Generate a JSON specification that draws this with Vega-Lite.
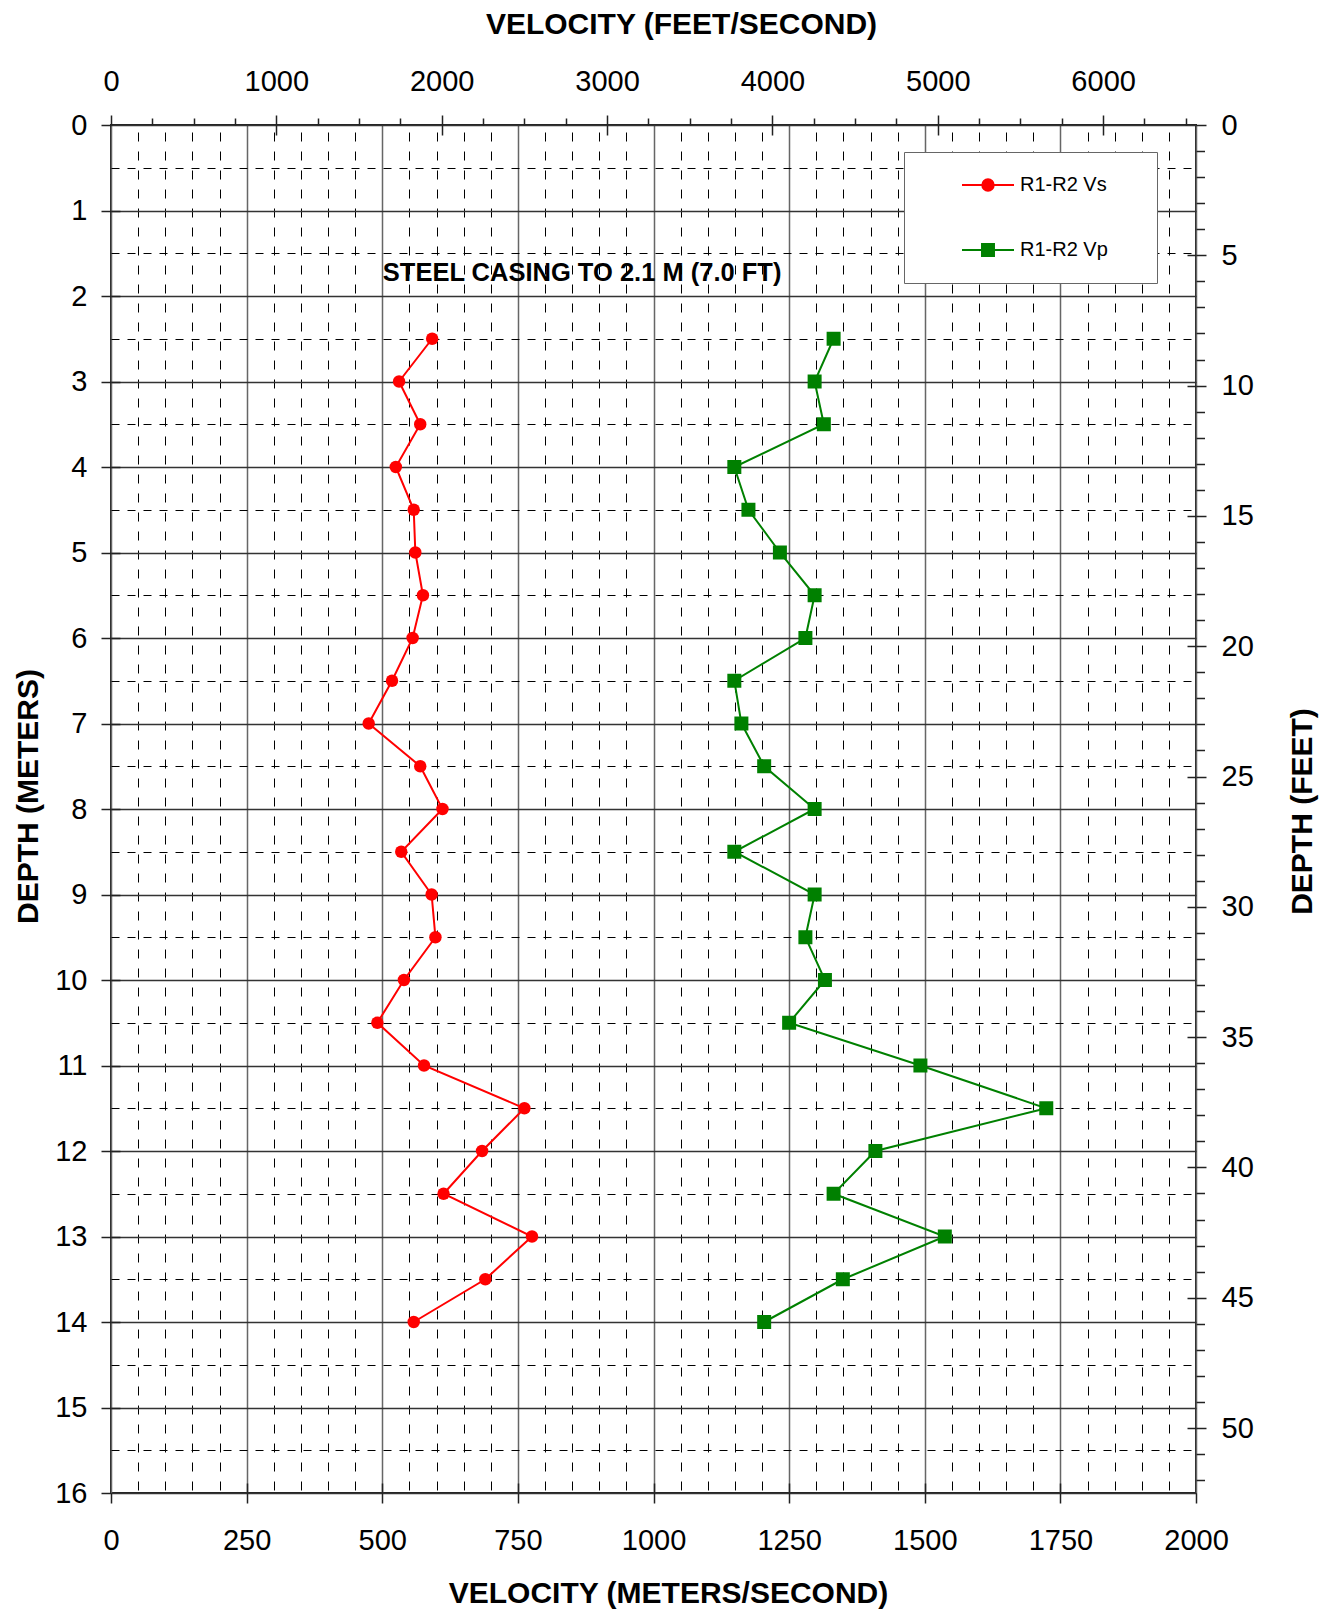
{
  "$schema": "https://vega.github.io/schema/vega-lite/v6.json",
  "width": 1085,
  "height": 1368,
  "autosize": {"type": "none"},
  "padding": {"left": 111, "top": 125, "right": 136, "bottom": 117},
  "background": "white",
  "config": {
    "font": "Liberation Sans",
    "view": {"stroke": "#222", "strokeWidth": 2},
    "axis": {
      "labelFont": "Liberation Sans",
      "titleFont": "Liberation Sans",
      "labelColor": "#000",
      "titleColor": "#000",
      "labelFontSize": 29,
      "titleFontSize": 30,
      "titleFontWeight": "bold",
      "tickColor": "#222",
      "tickWidth": 1.5,
      "domain": false,
      "labelOverlap": false,
      "labelFlush": false
    }
  },
  "layer": [
    {
      "data": {"values": [{}]},
      "mark": {"type": "rule", "strokeOpacity": 0},
      "encoding": {
        "x": {
          "datum": 0,
          "type": "quantitative",
          "scale": {"domain": [0, 2000], "nice": false, "zero": false},
          "axis": {
            "orient": "bottom",
            "values": [0,50,100,150,200,250,300,350,400,450,500,550,600,650,700,750,800,850,900,950,1000,1050,1100,1150,1200,1250,1300,1350,1400,1450,1500,1550,1600,1650,1700,1750,1800,1850,1900,1950,2000],
            "title": "VELOCITY (METERS/SECOND)",
            "grid": true,
            "gridColor": {"condition": {"test": "datum.value % 250 === 0", "value": "#666"}, "value": "#000"},
            "gridWidth": {"condition": {"test": "datum.value % 250 === 0", "value": 1.5}, "value": 1},
            "gridDash": {"condition": {"test": "datum.value % 250 === 0", "value": []}, "value": [9, 10]},
            "gridDashOffset": 16,
            "tickSize": 10,
            "tickOpacity": {"condition": {"test": "datum.value % 250 === 0", "value": 1}, "value": 0},
            "labelExpr": "datum.value % 250 === 0 ? '' + datum.value : ''",
            "labelPadding": 23,
            "titleX": 557,
            "titleY": 109,
            "titleAlign": "center",
            "titleBaseline": "alphabetic"
          }
        }
      }
    },
    {
      "data": {"values": [{}]},
      "mark": {"type": "rule", "strokeOpacity": 0},
      "encoding": {
        "x": {
          "datum": 0,
          "type": "quantitative",
          "scale": {"domain": [0, 2000], "nice": false, "zero": false},
          "axis": {
            "orient": "bottom",
            "values": [250, 500, 750, 1000, 1250, 1500, 1750],
            "title": null,
            "grid": false,
            "labels": false,
            "tickSize": -10
          }
        }
      }
    },
    {
      "data": {"values": [{}]},
      "mark": {"type": "rule", "strokeOpacity": 0},
      "encoding": {
        "y": {
          "datum": 0,
          "type": "quantitative",
          "scale": {"domain": [0, 16], "reverse": true, "nice": false, "zero": false},
          "axis": {
            "orient": "left",
            "values": [0,0.5,1,1.5,2,2.5,3,3.5,4,4.5,5,5.5,6,6.5,7,7.5,8,8.5,9,9.5,10,10.5,11,11.5,12,12.5,13,13.5,14,14.5,15,15.5,16],
            "title": "DEPTH (METERS)",
            "grid": true,
            "gridColor": {"condition": {"test": "datum.value % 1 === 0", "value": "#333"}, "value": "#000"},
            "gridWidth": {"condition": {"test": "datum.value % 1 === 0", "value": 1.3}, "value": 1},
            "gridDash": {"condition": {"test": "datum.value % 1 === 0", "value": []}, "value": [8, 8]},
            "tickSize": 10,
            "tickOpacity": {"condition": {"test": "datum.value % 1 === 0", "value": 1}, "value": 0},
            "labelExpr": "datum.value % 1 === 0 ? '' + datum.value : ''",
            "labelPadding": 14,
            "titleAngle": -90,
            "titleX": -74,
            "titleY": 671,
            "titleAlign": "center",
            "titleBaseline": "alphabetic"
          }
        }
      }
    },
    {
      "data": {"values": [{}]},
      "mark": {"type": "rule", "strokeOpacity": 0},
      "encoding": {
        "y": {
          "datum": 0,
          "type": "quantitative",
          "scale": {"domain": [0, 16], "reverse": true, "nice": false, "zero": false},
          "axis": {
            "orient": "left",
            "values": [1,2,3,4,5,6,7,8,9,10,11,12,13,14,15],
            "title": null,
            "grid": false,
            "labels": false,
            "tickSize": -9
          }
        }
      }
    },
    {
      "data": {
        "values": [
          {"depth": 2.5, "velocity": 592, "series": "R1-R2 Vs"},
          {"depth": 3.0, "velocity": 531, "series": "R1-R2 Vs"},
          {"depth": 3.5, "velocity": 570, "series": "R1-R2 Vs"},
          {"depth": 4.0, "velocity": 525, "series": "R1-R2 Vs"},
          {"depth": 4.5, "velocity": 558, "series": "R1-R2 Vs"},
          {"depth": 5.0, "velocity": 561, "series": "R1-R2 Vs"},
          {"depth": 5.5, "velocity": 575, "series": "R1-R2 Vs"},
          {"depth": 6.0, "velocity": 556, "series": "R1-R2 Vs"},
          {"depth": 6.5, "velocity": 518, "series": "R1-R2 Vs"},
          {"depth": 7.0, "velocity": 475, "series": "R1-R2 Vs"},
          {"depth": 7.5, "velocity": 570, "series": "R1-R2 Vs"},
          {"depth": 8.0, "velocity": 611, "series": "R1-R2 Vs"},
          {"depth": 8.5, "velocity": 535, "series": "R1-R2 Vs"},
          {"depth": 9.0, "velocity": 591, "series": "R1-R2 Vs"},
          {"depth": 9.5, "velocity": 598, "series": "R1-R2 Vs"},
          {"depth": 10.0, "velocity": 540, "series": "R1-R2 Vs"},
          {"depth": 10.5, "velocity": 491, "series": "R1-R2 Vs"},
          {"depth": 11.0, "velocity": 577, "series": "R1-R2 Vs"},
          {"depth": 11.5, "velocity": 762, "series": "R1-R2 Vs"},
          {"depth": 12.0, "velocity": 684, "series": "R1-R2 Vs"},
          {"depth": 12.5, "velocity": 613, "series": "R1-R2 Vs"},
          {"depth": 13.0, "velocity": 776, "series": "R1-R2 Vs"},
          {"depth": 13.5, "velocity": 690, "series": "R1-R2 Vs"},
          {"depth": 14.0, "velocity": 558, "series": "R1-R2 Vs"},
          {"depth": 2.5, "velocity": 1332, "series": "R1-R2 Vp"},
          {"depth": 3.0, "velocity": 1297, "series": "R1-R2 Vp"},
          {"depth": 3.5, "velocity": 1314, "series": "R1-R2 Vp"},
          {"depth": 4.0, "velocity": 1149, "series": "R1-R2 Vp"},
          {"depth": 4.5, "velocity": 1175, "series": "R1-R2 Vp"},
          {"depth": 5.0, "velocity": 1233, "series": "R1-R2 Vp"},
          {"depth": 5.5, "velocity": 1297, "series": "R1-R2 Vp"},
          {"depth": 6.0, "velocity": 1280, "series": "R1-R2 Vp"},
          {"depth": 6.5, "velocity": 1149, "series": "R1-R2 Vp"},
          {"depth": 7.0, "velocity": 1162, "series": "R1-R2 Vp"},
          {"depth": 7.5, "velocity": 1204, "series": "R1-R2 Vp"},
          {"depth": 8.0, "velocity": 1297, "series": "R1-R2 Vp"},
          {"depth": 8.5, "velocity": 1149, "series": "R1-R2 Vp"},
          {"depth": 9.0, "velocity": 1297, "series": "R1-R2 Vp"},
          {"depth": 9.5, "velocity": 1280, "series": "R1-R2 Vp"},
          {"depth": 10.0, "velocity": 1316, "series": "R1-R2 Vp"},
          {"depth": 10.5, "velocity": 1250, "series": "R1-R2 Vp"},
          {"depth": 11.0, "velocity": 1492, "series": "R1-R2 Vp"},
          {"depth": 11.5, "velocity": 1724, "series": "R1-R2 Vp"},
          {"depth": 12.0, "velocity": 1409, "series": "R1-R2 Vp"},
          {"depth": 12.5, "velocity": 1332, "series": "R1-R2 Vp"},
          {"depth": 13.0, "velocity": 1537, "series": "R1-R2 Vp"},
          {"depth": 13.5, "velocity": 1349, "series": "R1-R2 Vp"},
          {"depth": 14.0, "velocity": 1204, "series": "R1-R2 Vp"}
        ]
      },
      "layer": [
        {
          "mark": {"type": "line", "strokeWidth": 2},
          "encoding": {
            "x": {"field": "velocity", "type": "quantitative", "scale": {"domain": [0, 2000], "nice": false, "zero": false}, "axis": null},
            "y": {"field": "depth", "type": "quantitative", "scale": {"domain": [0, 16], "reverse": true, "nice": false, "zero": false}, "axis": null},
            "color": {
              "field": "series",
              "type": "nominal",
              "scale": {"domain": ["R1-R2 Vs", "R1-R2 Vp"], "range": ["#ff0000", "#008000"]},
              "legend": {
                "orient": "none",
                "legendX": 793,
                "legendY": 27,
                "title": null,
                "padding": 6,
                "fillColor": "white",
                "strokeColor": "#666",
                "symbolSize": 2704,
                "symbolStrokeWidth": 2,
                "symbolOffset": 51,
                "labelOffset": 5,
                "labelFont": "Liberation Sans",
                "labelFontSize": 20,
                "labelColor": "#000",
                "rowPadding": 8,
                "encode": {
                  "symbols": {
                    "update": {
                      "shape": {"signal": "datum.value === 'R1-R2 Vs' ? 'M0,-1M0,0.85M6.09,0M-1,0L1,0M-0.22,0A0.22,0.22,0,1,1,0.22,0A0.22,0.22,0,1,1,-0.22,0Z' : 'M0,-1M0,0.85M6.09,0M-1,0L1,0M-0.23,-0.23L0.23,-0.23L0.23,0.23L-0.23,0.23Z'"},
                      "fill": {"scale": "color", "field": "value"},
                      "stroke": {"scale": "color", "field": "value"},
                      "opacity": {"value": 1}
                    }
                  }
                }
              }
            },
            "order": {"field": "depth", "type": "quantitative"}
          }
        },
        {
          "transform": [{"filter": "datum.series === 'R1-R2 Vs'"}],
          "mark": {"type": "point", "shape": "circle", "filled": true, "opacity": 1, "size": 155, "color": "#ff0000"},
          "encoding": {
            "x": {"field": "velocity", "type": "quantitative", "axis": null},
            "y": {"field": "depth", "type": "quantitative", "axis": null}
          }
        },
        {
          "transform": [{"filter": "datum.series === 'R1-R2 Vp'"}],
          "mark": {"type": "point", "shape": "square", "filled": true, "opacity": 1, "size": 196, "color": "#008000"},
          "encoding": {
            "x": {"field": "velocity", "type": "quantitative", "axis": null},
            "y": {"field": "depth", "type": "quantitative", "axis": null}
          }
        },
        {
          "data": {"values": [{}]},
          "mark": {"type": "text", "text": "STEEL CASING TO 2.1 M (7.0 FT)", "align": "left", "baseline": "alphabetic", "font": "Liberation Sans", "fontSize": 25.5, "fontWeight": "bold", "color": "#000"},
          "encoding": {
            "x": {"datum": 501, "type": "quantitative", "axis": null},
            "y": {"datum": 1.83, "type": "quantitative", "axis": null}
          }
        }
      ]
    },
    {
      "data": {"values": [{}]},
      "mark": {"type": "rule", "strokeOpacity": 0},
      "encoding": {
        "x": {
          "datum": 0,
          "type": "quantitative",
          "scale": {"domain": [0, 6561.68], "nice": false, "zero": false},
          "axis": {
            "orient": "top",
            "values": [0,250,500,750,1000,1250,1500,1750,2000,2250,2500,2750,3000,3250,3500,3750,4000,4250,4500,4750,5000,5250,5500,5750,6000,6250,6500],
            "title": "VELOCITY (FEET/SECOND)",
            "grid": false,
            "tickSize": {"condition": {"test": "datum.value % 1000 === 0", "value": 10}, "value": 7},
            "labelExpr": "datum.value % 1000 === 0 ? '' + datum.value : ''",
            "labelBaseline": "alphabetic",
            "labelPadding": 25,
            "titleX": 570,
            "titleY": -92,
            "titleAlign": "center",
            "titleBaseline": "alphabetic"
          }
        }
      }
    },
    {
      "data": {"values": [{}]},
      "mark": {"type": "rule", "strokeOpacity": 0},
      "encoding": {
        "x": {
          "datum": 0,
          "type": "quantitative",
          "scale": {"domain": [0, 6561.68], "nice": false, "zero": false},
          "axis": {
            "orient": "top",
            "values": [1000, 2000, 3000, 4000, 5000, 6000],
            "title": null,
            "grid": false,
            "labels": false,
            "tickSize": -10
          }
        }
      }
    },
    {
      "data": {"values": [{}]},
      "mark": {"type": "rule", "strokeOpacity": 0},
      "encoding": {
        "y": {
          "datum": 0,
          "type": "quantitative",
          "scale": {"domain": [0, 52.4934], "reverse": true, "nice": false, "zero": false},
          "axis": {
            "orient": "right",
            "values": [0,1,2,3,4,5,6,7,8,9,10,11,12,13,14,15,16,17,18,19,20,21,22,23,24,25,26,27,28,29,30,31,32,33,34,35,36,37,38,39,40,41,42,43,44,45,46,47,48,49,50,51,52],
            "title": "DEPTH (FEET)",
            "grid": false,
            "tickSize": {"condition": {"test": "datum.value % 5 === 0", "value": 10}, "value": 8.5},
            "labelExpr": "datum.value % 5 === 0 ? '' + datum.value : ''",
            "labelPadding": 15,
            "titleAngle": -90,
            "titleX": 115.6,
            "titleY": 686,
            "titleAlign": "center",
            "titleBaseline": "alphabetic"
          }
        }
      }
    },
    {
      "data": {"values": [{}]},
      "mark": {"type": "rule", "strokeOpacity": 0},
      "encoding": {
        "y": {
          "datum": 0,
          "type": "quantitative",
          "scale": {"domain": [0, 52.4934], "reverse": true, "nice": false, "zero": false},
          "axis": {
            "orient": "right",
            "values": [5, 10, 15, 20, 25, 30, 35, 40, 45, 50],
            "title": null,
            "grid": false,
            "labels": false,
            "tickSize": -9
          }
        }
      }
    }
  ],
  "resolve": {
    "scale": {"x": "independent", "y": "independent"},
    "axis": {"x": "independent", "y": "independent"}
  }
}
